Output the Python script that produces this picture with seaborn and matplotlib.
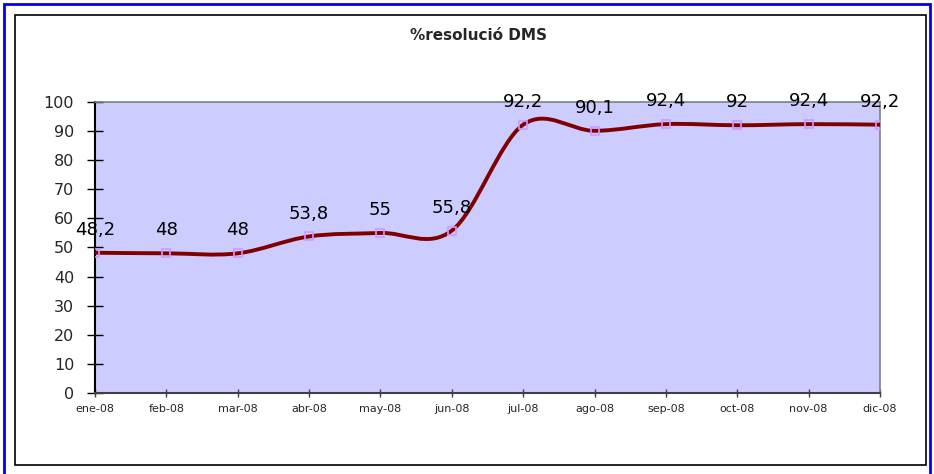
import matplotlib
matplotlib.use('Agg')
import matplotlib.pyplot as plt
from matplotlib.path import Path
from matplotlib.patches import PathPatch, Rectangle
import seaborn as sns
import pandas as pd

# data
months = ['ene-08', 'feb-08', 'mar-08', 'abr-08', 'may-08', 'jun-08',
          'jul-08', 'ago-08', 'sep-08', 'oct-08', 'nov-08', 'dic-08']
values = [48.2, 48, 48, 53.8, 55, 55.8, 92.2, 90.1, 92.4, 92, 92.4, 92.2]
labels = ['48,2', '48', '48', '53,8', '55', '55,8', '92,2', '90,1', '92,4', '92', '92,4', '92,2']

df = pd.DataFrame({'mes': range(len(months)), 'valor': values})

sns.set_style('white')
plt.rcParams['font.family'] = ['DejaVu Sans']

fig = plt.figure(figsize=(9.34, 4.74), dpi=100)
ax = fig.add_axes([95 / 934, 81 / 474, 785 / 934, 291 / 474])
ax.set_facecolor('#CCCCFF')

# smoothed line like excel (bezier through the points)
x = df['mes'].tolist()
y = df['valor'].tolist()
n = len(x)
verts = [(x[0], y[0])]
codes = [Path.MOVETO]
for i in range(n - 1):
    x0, y0 = (x[i - 1], y[i - 1]) if i > 0 else (x[i], y[i])
    x3, y3 = (x[i + 2], y[i + 2]) if i + 2 < n else (x[i + 1], y[i + 1])
    c1 = (x[i] + (x[i + 1] - x0) / 6, y[i] + (y[i + 1] - y0) / 6)
    c2 = (x[i + 1] - (x3 - x[i]) / 6, y[i + 1] - (y3 - y[i]) / 6)
    verts += [c1, c2, (x[i + 1], y[i + 1])]
    codes += [Path.CURVE4, Path.CURVE4, Path.CURVE4]
ax.add_patch(PathPatch(Path(verts, codes), facecolor='none', edgecolor='#800000',
                       lw=2.8, capstyle='round', joinstyle='round', zorder=3))

# markers
sns.lineplot(data=df, x='mes', y='valor', ax=ax, marker='s', markersize=6,
             markerfacecolor='none', markeredgecolor='#CC99FF', markeredgewidth=1.2,
             linestyle='none', zorder=4)

for xi, yi, lab in zip(x, y, labels):
    ax.annotate(lab, (xi, yi), xytext=(0, 10), textcoords='offset points',
                ha='center', va='bottom', fontsize=13, color='black', zorder=5,
                annotation_clip=False)

ax.set_xlim(0, n - 1)
ax.set_ylim(0, 100)
ax.set_yticks(range(0, 101, 10))
ax.set_xticks(range(n))
ax.set_xticklabels(months, fontsize=8)
ax.tick_params(axis='y', labelsize=11.5, direction='inout', length=12, width=1, color='black', pad=9, left=True)
ax.tick_params(axis='x', direction='inout', length=6, width=1, color='#404040', pad=5, bottom=True)
ax.set_xlabel('')
ax.set_ylabel('')
for s in ['top', 'right']:
    ax.spines[s].set_color('#808080')
    ax.spines[s].set_linewidth(1.2)
ax.spines['left'].set_color('black')
ax.spines['left'].set_linewidth(1.5)
ax.spines['bottom'].set_color('#404040')
ax.spines['bottom'].set_linewidth(1.5)

fig.text(478 / 934, 1 - 35 / 474, '%resolució DMS', ha='center', va='center',
         fontsize=11, fontweight='bold')

# chart frames
fig.patches.append(Rectangle((15 / 934, 9 / 474), 911 / 934, 450 / 474, transform=fig.transFigure,
                             fill=False, edgecolor='black', lw=1.2))
fig.patches.append(Rectangle((4 / 934, -0.02), 926 / 934, 1 - 4 / 474 + 0.02, transform=fig.transFigure,
                             fill=False, edgecolor='#0000EE', lw=2))

fig.savefig('out.png', dpi=100)
